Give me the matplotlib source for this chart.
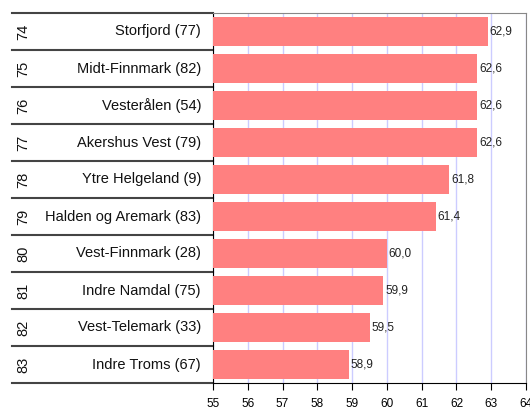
import matplotlib
matplotlib.use("Agg")
import matplotlib.pyplot as plt

plt.rcParams['font.family'] = ['Liberation Sans', 'DejaVu Sans']

ranks = [74, 75, 76, 77, 78, 79, 80, 81, 82, 83]
names = ["Storfjord (77)", "Midt-Finnmark (82)", "Vesterålen (54)", "Akershus Vest (79)",
         "Ytre Helgeland (9)", "Halden og Aremark (83)", "Vest-Finnmark (28)",
         "Indre Namdal (75)", "Vest-Telemark (33)", "Indre Troms (67)"]
values = [62.9, 62.6, 62.6, 62.6, 61.8, 61.4, 60.0, 59.9, 59.5, 58.9]
xticks = list(range(55, 65))

fig = plt.figure(figsize=(5.3, 4.07), dpi=100)
ax = fig.add_axes([213 / 530, 1 - 383 / 407, 313 / 530, 370 / 407])

pos = list(range(len(values)))
ax.barh(pos, [v - 55 for v in values], left=55, height=0.8, color="#FF8080", zorder=3)
for p, v in zip(pos, values):
    ax.text(v + 0.05, p, f"{v:.1f}".replace(".", ","), va="center", ha="left",
            fontsize=8.5, color="#222222", zorder=4)

ax.set_xlim(55, 64)
ax.set_ylim(len(values) - 0.5, -0.5)
ax.set_xticks(xticks)
ax.set_yticks([])
ax.tick_params(axis="x", direction="out", length=5, labelsize=8.5, pad=6)
ax.grid(axis="x", color="#ccccff", linewidth=1, zorder=0)

ax.spines["top"].set_color("#888888")
ax.spines["right"].set_color("#888888")
ax.spines["left"].set_color("black")
ax.spines["bottom"].set_color("black")

# left table: rank + name
tr = ax.get_yaxis_transform()
x0 = (12 - 213) / 313
for k in range(len(values) + 1):
    ax.plot([x0, 0], [k - 0.5, k - 0.5], transform=tr, color="#444444",
            linewidth=1.5, clip_on=False)
for p, r, n in zip(pos, ranks, names):
    ax.text((23 - 213) / 313, p, str(r), transform=tr, rotation=90, va="center",
            ha="center", fontsize=10.5, color="#111111")
    ax.text((201 - 213) / 313, p, n, transform=tr, va="center", ha="right",
            fontsize=10.5, color="#111111")

fig.savefig("out.png", dpi=100)
